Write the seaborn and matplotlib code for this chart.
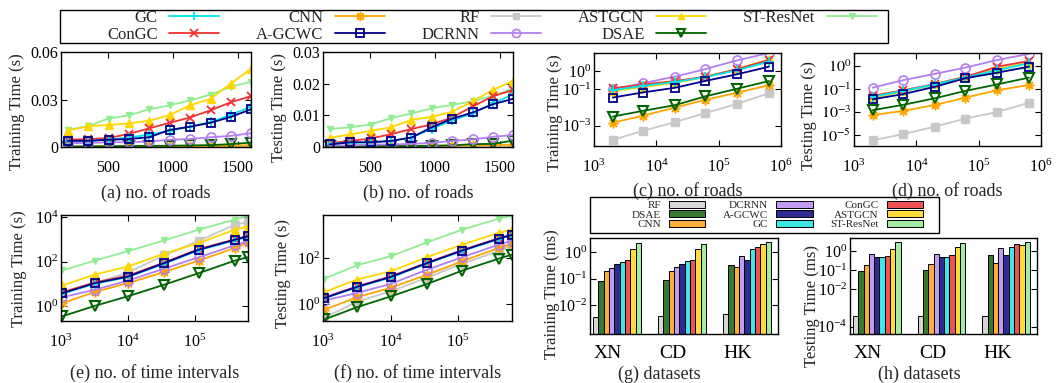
import numpy as np
import pandas as pd
import matplotlib
matplotlib.use('Agg')
import matplotlib.pyplot as plt
import seaborn as sns
from matplotlib.lines import Line2D
from matplotlib.patches import Patch, Rectangle
from matplotlib.ticker import NullLocator

sns.set_style('ticks')
plt.rcParams['font.family'] = ['Liberation Serif', 'DejaVu Serif']
plt.rcParams['mathtext.fontset'] = 'stix'

# ---- data ----
roads_lin = [190, 350, 505, 660, 820, 975, 1130, 1290, 1445, 1600]
roads_log = [2e3, 6e3, 2e4, 6e4, 2e5, 6.4e5]
intervals = [1.05e3, 3.2e3, 1e4, 3.5e4, 1.15e5, 4e5, 6.2e5]

train_a = {
    'GC': [0.0035, 0.0038, 0.0047, 0.006, 0.0078, 0.0103, 0.0128, 0.0158, 0.0203, 0.0255],
    'ConGC': [0.0046, 0.005, 0.0056, 0.0083, 0.0118, 0.0153, 0.0186, 0.0232, 0.0283, 0.0321],
    'CNN': [0.0003, 0.0003, 0.0004, 0.0004, 0.0005, 0.0005, 0.0006, 0.0007, 0.0008, 0.001],
    'A-GCWC': [0.0039, 0.0039, 0.0046, 0.005, 0.0062, 0.0108, 0.0128, 0.0153, 0.019, 0.0238],
    'RF': [0.0001, 0.0001, 0.0001, 0.0001, 0.0001, 0.0001, 0.0001, 0.0001, 0.0001, 0.0001],
    'DCRNN': [0.0025, 0.0025, 0.003, 0.003, 0.0035, 0.0046, 0.005, 0.0062, 0.007, 0.0087],
    'ASTGCN': [0.0103, 0.0132, 0.0139, 0.0149, 0.0166, 0.0201, 0.0263, 0.0304, 0.0401, 0.0494],
    'DSAE': [0.0003, 0.0004, 0.0005, 0.0006, 0.0007, 0.0008, 0.001, 0.0012, 0.0018, 0.0028],
    'ST-ResNet': [0.0108, 0.0132, 0.018, 0.02, 0.0238, 0.0263, 0.0294, 0.0331, 0.038, 0.0412],
}
test_b = {
    'GC': [0.001, 0.0013, 0.0015, 0.0019, 0.003, 0.0057, 0.0084, 0.0106, 0.0138, 0.0166],
    'ConGC': [0.0013, 0.0019, 0.0027, 0.004, 0.0057, 0.0071, 0.0093, 0.0128, 0.016, 0.018],
    'CNN': [0.0002, 0.0002, 0.0003, 0.0003, 0.0003, 0.0004, 0.0004, 0.0005, 0.0006, 0.0007],
    'A-GCWC': [0.0008, 0.0015, 0.0015, 0.0019, 0.003, 0.0062, 0.0089, 0.0109, 0.0135, 0.0152],
    'RF': [0.00005, 0.00005, 0.00005, 0.00005, 0.00005, 0.00005, 0.00005, 0.00005, 0.00005, 0.00005],
    'DCRNN': [0.0005, 0.0005, 0.0008, 0.0008, 0.001, 0.0013, 0.0019, 0.0024, 0.0032, 0.0038],
    'ASTGCN': [0.0029, 0.004, 0.0051, 0.0062, 0.0086, 0.0095, 0.0111, 0.0144, 0.018, 0.0209],
    'DSAE': [0.0002, 0.0002, 0.0003, 0.0003, 0.0003, 0.0004, 0.0005, 0.0009, 0.001, 0.002],
    'ST-ResNet': [0.0057, 0.0062, 0.0071, 0.0091, 0.0106, 0.0122, 0.0133, 0.0144, 0.0162, 0.0184],
}
train_c = {
    'GC': [0.089, 0.15, 0.25, 0.45, 1.1, 3.2],
    'ConGC': [0.11, 0.18, 0.28, 0.47, 1.26, 4.0],
    'CNN': [0.0015, 0.0035, 0.01, 0.026, 0.065, 0.166],
    'A-GCWC': [0.035, 0.066, 0.12, 0.28, 0.66, 1.7],
    'RF': [0.00017, 0.00052, 0.0016, 0.0049, 0.016, 0.06],
    'DCRNN': [0.1, 0.21, 0.49, 1.23, 3.8, 9.5],
    'ASTGCN': [0.08, 0.13, 0.22, 0.45, 1.26, 4.2],
    'DSAE': [0.0032, 0.0065, 0.0135, 0.04, 0.107, 0.28],
    'ST-ResNet': [0.083, 0.16, 0.26, 0.48, 1.12, 3.3],
}
# (d) read against the evenly spaced 10^-1 / 10^-3 / 10^-5 ticks
test_d = {
    'GC': [0.0215, 0.0667, 0.254, 0.975, 4.49, 17.4],
    'ConGC': [0.0259, 0.0755, 0.272, 1.10, 8.77, 27.2],
    'CNN': [5.5e-4, 1.22e-3, 4.07e-3, 0.0173, 0.0783, 0.223],
    'A-GCWC': [0.0127, 0.0349, 0.156, 0.851, 2.62, 8.77],
    'RF': [3.41e-6, 1.16e-5, 5.31e-5, 2.59e-4, 1.01e-3, 6.38e-3],
    'DCRNN': [0.130, 0.569, 2.09, 7.08, 33.3, 113.5],
    'ASTGCN': [0.0185, 0.0611, 0.272, 1.19, 5.55, 19.9],
    'DSAE': [1.44e-3, 4.07e-3, 0.0157, 0.0667, 0.254, 0.975],
    'ST-ResNet': [0.0162, 0.0582, 0.219, 0.811, 3.46, 7.19],
}
d_ticks = [10, 0.1, 1e-3, 1e-5]
d_tick_labels = ['$10^{0}$', '$10^{-1}$', '$10^{-3}$', '$10^{-5}$']

train_e = {
    'GC': [3.6, 10, 20, 80, 320, 900, 1250],
    'ConGC': [4.2, 11.5, 23, 90, 360, 1000, 1400],
    'CNN': [1.35, 4.3, 10.7, 34, 110, 410, 680],
    'A-GCWC': [3.8, 10.7, 21, 85, 340, 950, 1350],
    'RF': [4, 10.7, 32, 190, 850, 4500, 5900],
    'DCRNN': [2.5, 5.4, 13.8, 48, 155, 540, 810],
    'ASTGCN': [8.5, 26, 60, 224, 676, 2700, 3800],
    'DSAE': [0.35, 1.02, 2.75, 9.1, 30, 110, 155],
    'ST-ResNet': [40, 110, 290, 890, 2700, 7600, 11000],
}
test_f = {
    'GC': [1.75, 5.3, 14, 58, 200, 660, 980],
    'ConGC': [1.9, 5.8, 15.5, 63, 220, 720, 1050],
    'CNN': [0.56, 1.95, 5.0, 18.6, 72, 270, 410],
    'A-GCWC': [1.8, 5.5, 14.8, 60, 210, 690, 1000],
    'RF': [0.25, 1.26, 3.5, 14, 56, 200, 355],
    'DCRNN': [1.4, 3.0, 7.4, 31, 107, 380, 560],
    'ASTGCN': [3.3, 11.5, 26, 110, 380, 1230, 1700],
    'DSAE': [0.21, 0.72, 2.1, 7.4, 28, 93, 138],
    'ST-ResNet': [12.6, 48, 117, 480, 1700, 5100, 7000],
}

datasets = ['XN', 'CD', 'HK']
bar_methods = ['RF', 'DSAE', 'CNN', 'DCRNN', 'A-GCWC', 'GC', 'ConGC', 'ASTGCN', 'ST-ResNet']
train_g = {
    'RF': [0.0035, 0.0038, 0.0045],
    'DSAE': [0.081, 0.085, 0.33],
    'CNN': [0.2, 0.2, 0.27],
    'DCRNN': [0.26, 0.27, 0.69],
    'A-GCWC': [0.36, 0.34, 0.51],
    'GC': [0.41, 0.45, 1.26],
    'ConGC': [0.49, 0.51, 1.62],
    'ASTGCN': [1.26, 1.35, 1.95],
    'ST-ResNet': [2.24, 2.04, 2.34],
}
test_h = {
    'RF': [0.00037, 0.00037, 0.00037],
    'DSAE': [0.091, 0.105, 0.65],
    'CNN': [0.19, 0.21, 0.25],
    'DCRNN': [0.71, 0.74, 1.48],
    'A-GCWC': [0.49, 0.52, 0.65],
    'GC': [0.49, 0.52, 1.82],
    'ConGC': [0.58, 0.63, 2.4],
    'ASTGCN': [1.32, 1.66, 2.24],
    'ST-ResNet': [3.3, 2.75, 3.1],
}

# ---- styles ----
styles = {
    'GC': dict(color='#00e5ee', marker='+', ms=7, mfc='#00e5ee', mew=1.3),
    'ConGC': dict(color='#f03232', marker='x', ms=6, mfc='#f03232', mew=1.3),
    'CNN': dict(color='#ffa500', marker=(8, 2, 0), ms=7, mfc='#ffa500', mew=1.1),
    'A-GCWC': dict(color='#00008b', marker='s', ms=6, mfc='none', mew=1.3),
    'RF': dict(color='#c8c8c8', marker='s', ms=5.5, mfc='#c8c8c8', mew=1.0),
    'DCRNN': dict(color='#b47ef0', marker='o', ms=6.5, mfc='none', mew=1.2),
    'ASTGCN': dict(color='#ffd700', marker='^', ms=5.5, mfc='#ffd700', mew=1.0),
    'DSAE': dict(color='#006400', marker='v', ms=6.5, mfc='none', mew=1.5),
    'ST-ResNet': dict(color='#90ee90', marker='v', ms=5, mfc='#90ee90', mew=1.0),
}
draw_order = ['RF', 'CNN', 'DSAE', 'DCRNN', 'ST-ResNet', 'ASTGCN', 'ConGC', 'GC', 'A-GCWC']
legend_order = ['GC', 'ConGC', 'CNN', 'A-GCWC', 'RF', 'DCRNN', 'ASTGCN', 'DSAE', 'ST-ResNet']
bar_colors = {'RF': '#d6d6d6', 'DSAE': '#357a30', 'CNN': '#ffad3a', 'DCRNN': '#c29cf2',
              'A-GCWC': '#2c2c92', 'GC': '#3ee6e6', 'ConGC': '#ee5252', 'ASTGCN': '#ffdc3a',
              'ST-ResNet': '#a3eba3'}

W, H = 1058, 383
fig = plt.figure(figsize=(W / 100, H / 100), dpi=100)


def px_axes(l, t, r, b):
    return fig.add_axes([l / W, 1 - b / H, (r - l) / W, (b - t) / H])


def frame(ax):
    ax.tick_params(direction='in', length=4, width=0.8, top=True, right=True,
                   labelsize=11.5, colors='black')
    ax.tick_params(axis='y', pad=2)
    ax.tick_params(axis='x', pad=9)
    for s in ax.spines.values():
        s.set_linewidth(1.0)
        s.set_color('black')


def draw_lines(ax, x, series):
    for name in draw_order:
        st = styles[name]
        sns.lineplot(x=x, y=series[name], ax=ax, color=st['color'], marker=st['marker'],
                     markersize=st['ms'], markerfacecolor=st['mfc'],
                     markeredgecolor=st['color'], markeredgewidth=st['mew'],
                     linewidth=1.3, legend=False)


def labels(ax, xl, yl, ylx, yly, xly, xlx=0.5):
    ax.set_xlabel(xl, fontsize=13)
    ax.set_ylabel(yl, fontsize=12)
    ax.yaxis.set_label_coords(ylx, yly)
    ax.xaxis.set_label_coords(xlx, xly)


def log_axes(ax, xlim, ylim, yticks, xticks=None):
    ax.set_xscale('log')
    ax.set_yscale('log')
    ax.set_xlim(*xlim)
    ax.set_ylim(*ylim)
    if xticks is not None:
        ax.set_xticks(xticks)
    ax.set_yticks(yticks)
    ax.xaxis.set_minor_locator(NullLocator())
    ax.yaxis.set_minor_locator(NullLocator())


# (a)
ax = px_axes(61, 52, 251, 147)
draw_lines(ax, roads_lin, train_a)
ax.set_xlim(140, 1600)
ax.set_ylim(0, 0.06)
ax.set_xticks([500, 1000, 1500])
ax.set_yticks([0, 0.03, 0.06], ['0', '0.03', '0.06'])
frame(ax)
labels(ax, '(a) no. of roads', 'Training Time (s)', -0.19, 0.37, -0.39)

# (b)
ax = px_axes(323, 52, 513, 147)
draw_lines(ax, roads_lin, test_b)
ax.set_xlim(140, 1600)
ax.set_ylim(0, 0.03)
ax.set_xticks([500, 1000, 1500])
ax.set_yticks([0, 0.01, 0.02, 0.03], ['0', '0.01', '0.02', '0.03'])
frame(ax)
labels(ax, '(b) no. of roads', 'Testing Time (s)', -0.19, 0.42, -0.39)

# (c)
ax = px_axes(594, 53, 781, 146)
draw_lines(ax, roads_log, train_c)
log_axes(ax, (1e3, 1e6), (7.9e-5, 9.5), [1, 0.1, 0.001])
frame(ax)
labels(ax, '(c) no. of roads', 'Training Time (s)', -0.168, 0.36, -0.39)

# (d)
ax = px_axes(854, 53, 1041, 146)
draw_lines(ax, roads_log, test_d)
log_axes(ax, (1e3, 1e6), (1.1e-6, 135), d_ticks)
ax.set_yticks(d_ticks, d_tick_labels)
frame(ax)
labels(ax, '(d) no. of roads', 'Testing Time (s)', -0.2, 0.33, -0.39)

# (e)
ax = px_axes(61, 215, 248, 321)
draw_lines(ax, intervals, train_e)
log_axes(ax, (1e3, 6.3e5), (0.214, 12300), [1, 100, 1e4], [1e3, 1e4, 1e5])
frame(ax)
labels(ax, '(e) no. of time intervals', 'Training Time (s)', -0.18, 0.49, -0.41)

# (f)
ax = px_axes(323, 215, 512, 321)
draw_lines(ax, intervals, test_f)
log_axes(ax, (1e3, 6.3e5), (0.18, 7400), [1, 100], [1e3, 1e4, 1e5])
frame(ax)
labels(ax, '(f) no. of time intervals', 'Testing Time (s)', -0.167, 0.45, -0.41)


# (g) and (h) bars
def draw_bars(ax, values, ylim, yticks):
    df = pd.DataFrame({
        'dataset': [d for m in bar_methods for d in datasets],
        'method': [m for m in bar_methods for d in datasets],
        'value': [v for m in bar_methods for v in values[m]],
    })
    sns.barplot(data=df, x='dataset', y='value', hue='method', order=datasets,
                hue_order=bar_methods, palette=bar_colors, width=0.74, saturation=1,
                edgecolor='black', linewidth=0.7, errorbar=None, legend=False, ax=ax)
    ax.set_yscale('log')
    ax.set_ylim(*ylim)
    ax.set_xlim(-0.415, 2.477)
    ax.set_yticks(yticks)
    ax.yaxis.set_minor_locator(NullLocator())
    frame(ax)
    ax.set_xticks([-0.14, 0.86, 1.86], datasets)
    ax.tick_params(axis='x', length=0, labelsize=14, pad=8, top=False)


ax = px_axes(590, 238, 778, 334)
draw_bars(ax, train_g, (8.1e-4, 3.4), [1, 0.1, 0.01])
labels(ax, '(g) datasets', 'Training Time (ms)', -0.157, 0.42, -0.33, 0.37)

ax = px_axes(850, 238, 1037, 334)
draw_bars(ax, test_h, (4.1e-5, 5.2), [1, 0.1, 0.01, 1e-4])
labels(ax, '(h) datasets', 'Testing Time (ms)', -0.163, 0.29, -0.33, 0.37)

# ---- legends ----
line_handles = []
for name in legend_order:
    st = styles[name]
    line_handles.append(Line2D([], [], color=st['color'], marker=st['marker'],
                               markersize=st['ms'] * 0.9, markerfacecolor=st['mfc'],
                               markeredgecolor=st['color'], markeredgewidth=st['mew'],
                               linewidth=1.3))
fig.legend(line_handles, legend_order, loc='center', bbox_to_anchor=(0.465, 0.931),
           ncol=5, frameon=False, markerfirst=False, fontsize=12, handlelength=3.0,
           handletextpad=0.7, columnspacing=2.2, labelspacing=0.05, borderpad=0,
           numpoints=1)
fig.add_artist(Rectangle((60 / W, 1 - 43 / H), 828 / W, 33 / H, transform=fig.transFigure,
                         fill=False, edgecolor='black', linewidth=1.0))

bar_handles = [Patch(facecolor=bar_colors[m], edgecolor='black', linewidth=0.7)
               for m in bar_methods]
fig.legend(bar_handles, bar_methods, loc='center', bbox_to_anchor=(0.735, 0.4386),
           ncol=3, frameon=False, markerfirst=False, fontsize=8, handlelength=3.3,
           handleheight=0.6, handletextpad=0.7, columnspacing=1.6, labelspacing=0.0,
           borderpad=0)
fig.add_artist(Rectangle((590 / W, 1 - 233 / H), 349 / W, 36 / H, transform=fig.transFigure,
                         fill=False, edgecolor='black', linewidth=1.0))

fig.savefig('out.png', dpi=100)
